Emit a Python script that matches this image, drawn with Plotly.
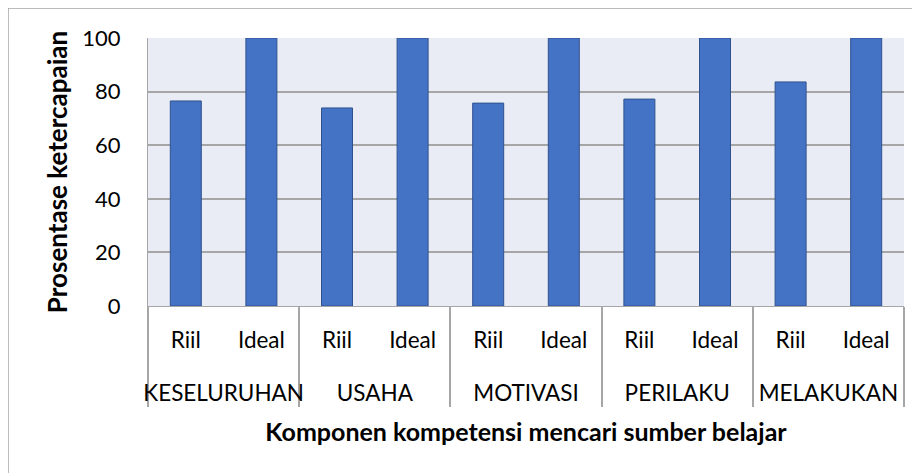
import plotly.graph_objects as go

groups = ["KESELURUHAN", "USAHA", "MOTIVASI", "PERILAKU", "MELAKUKAN"]
subcats = ["Riil", "Ideal"]
riil_values = [76.5, 73.9, 75.7, 77.2, 83.6]
ideal_values = [100, 100, 100, 100, 100]

# a tall invisible pad in the first label row deepens that row so the group row sits lower
PAD = "<span style='font-size:30px'>\u00a0</span>"

x_groups = []
x_sub = []
y_vals = []
for g, r, i in zip(groups, riil_values, ideal_values):
    x_groups += ["<br>" + g, "<br>" + g]
    x_sub += [PAD + s + PAD for s in subcats]
    y_vals += [r, i]

# page is offset by the browser's 8px body margin
OFF = 8
W, H = 920 - OFF, 473 - OFF
L, T = 148 - OFF, 38 - OFF
R = W - (904 - OFF)
B = H - (306 - OFF)
pw, ph = W - L - R, H - T - B

def px(x):
    return (x - OFF - L) / pw

def py(y):
    return (H - B - (y - OFF)) / ph

font = "Lato, 'Open Sans', sans-serif"

fig = go.Figure()
fig.add_trace(go.Bar(
    x=[x_groups, x_sub], y=y_vals,
    marker=dict(color="#4472C4", line=dict(color="#2F528F", width=1)),
))

fig.update_layout(
    width=W, height=H,
    margin=dict(l=L, r=R, t=T, b=B, autoexpand=False),
    paper_bgcolor="white", plot_bgcolor="#E9EBF5",
    bargap=0.59, showlegend=False,
    font=dict(family=font, size=22, color="black"),
    xaxis=dict(
        type="multicategory", showgrid=False,
        showline=True, linecolor="#A6A6A6", linewidth=1,
        showdividers=True, dividercolor="#A6A6A6", dividerwidth=1.5,
        ticks="", ticklabelstandoff=14,
        tickfont=dict(size=22.5),
        title=dict(text="<b>Komponen kompetensi mencari sumber belajar</b>", font=dict(size=25), standoff=18),
    ),
    yaxis=dict(
        range=[0, 100], dtick=20, showgrid=True, gridcolor="#A6A6A6", gridwidth=1.5,
        zeroline=False, showline=True, linecolor="#A6A6A6", linewidth=1,
        ticks="outside", ticklen=22, tickcolor="rgba(0,0,0,0)",
        tickfont=dict(size=22),
        title=dict(text="<b>Prosentase ketercapaian</b>", font=dict(size=26), standoff=7),
    ),
    shapes=[
        dict(type="line", xref="paper", yref="paper", x0=px(8), x1=px(930), y0=py(8), y1=py(8),
             line=dict(color="#A6A6A6", width=1.5)),
        dict(type="line", xref="paper", yref="paper", x0=px(8), x1=px(8), y0=py(8), y1=py(480),
             line=dict(color="#A6A6A6", width=1.5)),
    ],
)

fig.write_html("out.html")
